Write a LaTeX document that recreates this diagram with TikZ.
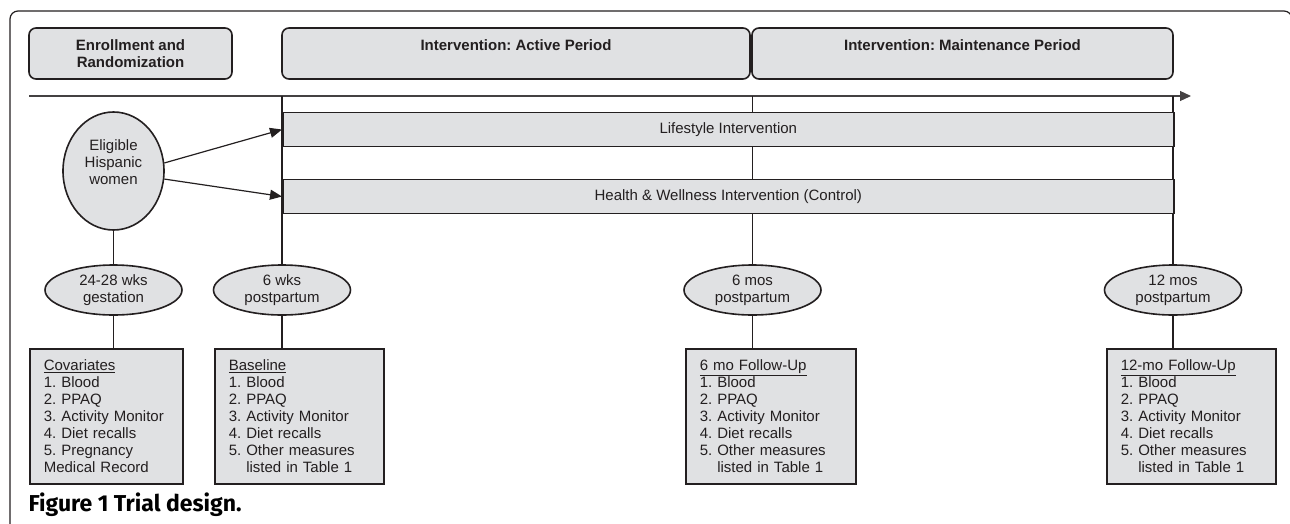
\documentclass[tikz,border=0pt]{standalone}
\usepackage{fontspec}
\setmainfont{Liberation Sans}
\newfontfamily\capfont{Fira Sans}
\usepackage{tikz}
\usetikzlibrary{shapes,arrows.meta}
\frenchspacing
\definecolor{boxgray}{HTML}{E0E1E3}
\definecolor{ink}{HTML}{231F20}
\tikzstyle{period} = [rectangle, draw=ink, fill=boxgray, line width=1.6pt,
    rounded corners=7pt, minimum height=51pt, inner sep=0pt, align=center,
    font=\fontsize{15}{17}\selectfont\bfseries]
\tikzstyle{arm} = [rectangle, draw=ink, fill=boxgray, line width=1.6pt,
    minimum width=891pt, minimum height=34pt, inner sep=0pt, anchor=west]
\tikzstyle{visit} = [ellipse, draw=ink, fill=boxgray, line width=1.6pt,
    minimum width=137pt, minimum height=50pt, inner sep=0pt, align=center]
\tikzstyle{measures} = [rectangle, draw=ink, fill=boxgray, line width=1.6pt,
    anchor=north west, inner xsep=14pt, inner ysep=0pt, minimum height=135pt,
    align=left]
\tikzstyle{edge} = [draw=ink, line width=1.6pt]
\tikzstyle{pointer} = [draw=ink, line width=1.2pt, -{Triangle[length=12pt,width=10pt]}]

\begin{document}
\begin{tikzpicture}[x=1pt, y=-1pt, every node/.style={font=\fontsize{15}{17}\selectfont, text=ink}]
  \useasboundingbox (0,0) rectangle (1290,523);
  % Frame
  \draw[ink, line width=1.2pt, rounded corners=8pt] (10,540) -- (10,11) -- (1292,11) -- (1292,540);
  % Place nodes
  \node [period, minimum width=203pt] (enrol) at (130.5,53.5) {Enrollment and\\Randomization};
  \node [period, minimum width=468pt] (active) at (516,53.5) {Intervention: Active Period\\\mbox{}};
  \node [period, minimum width=421pt] (maint) at (962.5,53.5) {Intervention: Maintenance Period\\\mbox{}};
  \coordinate (tstart) at (29,96);
  \coordinate (tend) at (1191,96);
  \coordinate (t1) at (282,96);
  \coordinate (t2) at (752.5,96);
  \coordinate (t3) at (1173,96);
  \node [visit, minimum width=101pt, minimum height=118pt] (elig) at (113.5,171) {Eligible\\Hispanic\\women\\\mbox{}};
  \node [visit] (gest) at (113.5,290) {24-28 wks\\gestation};
  \node [visit] (wk6) at (282,290) {6 wks\\postpartum};
  \node [visit] (mo6) at (752.5,290) {6 mos\\postpartum};
  \node [visit] (mo12) at (1173,290) {12 mos\\postpartum};
  \node [measures, text width=125pt] (cov) at (29,348) {\underline{Covariates}\\1. Blood\\2. PPAQ\\3. Activity Monitor\\4. Diet recalls\\5. Pregnancy\\Medical Record};
  \node [measures, text width=141pt] (base) at (214,348) {\underline{Baseline}\\1. Blood\\2. PPAQ\\3. Activity Monitor\\4. Diet recalls\\5. Other measures\\\phantom{5. }listed in Table 1};
  \node [measures, text width=142pt] (fu6) at (685,348) {\underline{6 mo Follow-Up}\\1. Blood\\2. PPAQ\\3. Activity Monitor\\4. Diet recalls\\5. Other measures\\\phantom{5. }listed in Table 1};
  \node [measures, text width=141pt] (fu12) at (1106,348) {\underline{12-mo Follow-Up}\\1. Blood\\2. PPAQ\\3. Activity Monitor\\4. Diet recalls\\5. Other measures\\\phantom{5. }listed in Table 1};
  % Draw edges
  \draw[ink!85, line width=1.2pt, -{Triangle[length=11pt,width=10pt]}] (tstart) -- (tend);
  \path[edge] (t1) -- (wk6);
  \path[edge] (t2) -- (mo6);
  \path[edge] (t3) -- (mo12);
  \path[edge] (elig) -- (gest);
  \path[edge] (gest) -- (gest |- cov.north);
  \path[edge] (wk6) -- (wk6 |- base.north);
  \path[edge] (mo6) -- (mo6 |- fu6.north);
  \path[edge] (mo12) -- (mo12 |- fu12.north);
  % Study arms
  \node [arm] (life) at (282,129.5) {Lifestyle Intervention};
  \node [arm] (health) at (282,196.5) {Health \& Wellness Intervention (Control)};
  \path[pointer] (elig.9) -- (life.west);
  \path[pointer] (elig.-9) -- (health.west);
  % Caption
  \node [anchor=base west, font=\capfont\bfseries\fontsize{23}{26}\selectfont, text=black] (caption) at (25,511) {Figure 1 Trial design.};
\end{tikzpicture}
\end{document}
